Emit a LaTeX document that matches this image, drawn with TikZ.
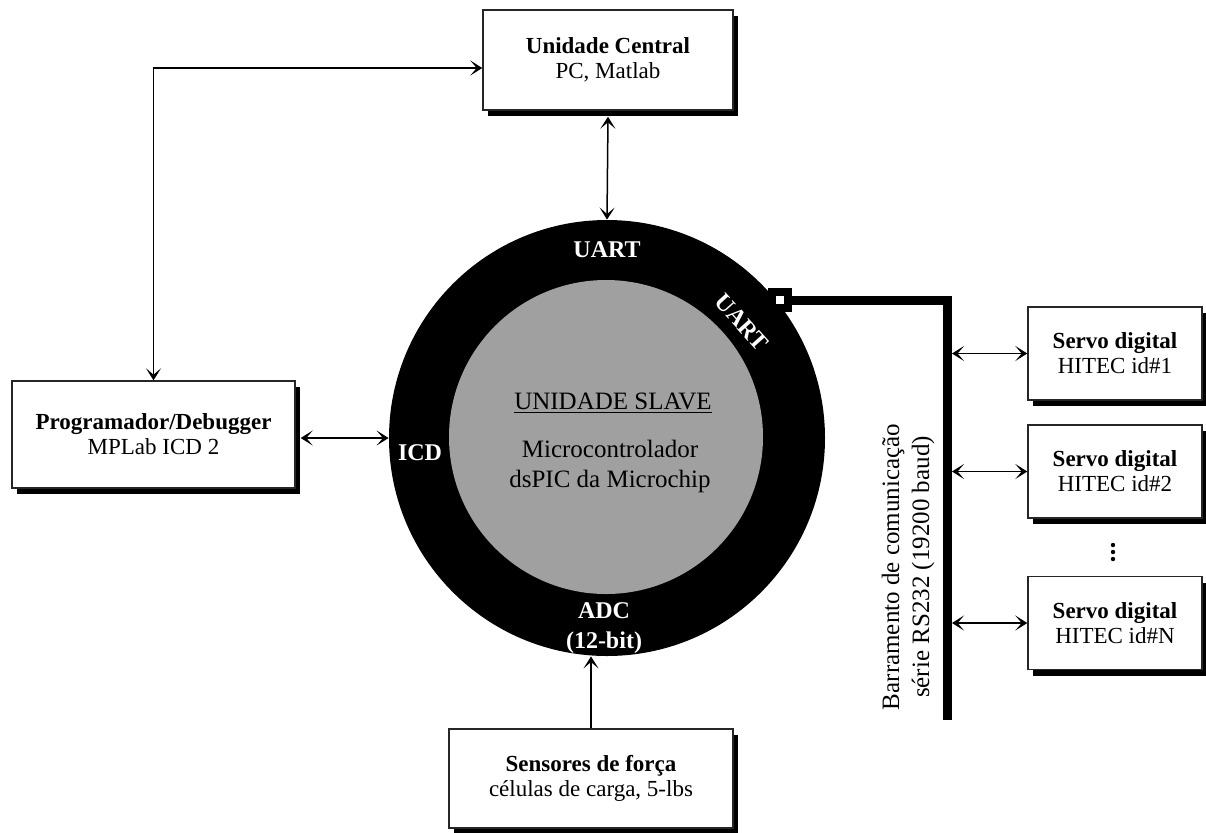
\documentclass[tikz,border=0pt]{standalone}
\usepackage{fontspec}
\setmainfont{Liberation Serif}
\usetikzlibrary{arrows.meta}
\usetikzlibrary{shadows}
\definecolor{slavegray}{RGB}{160,160,160}
\tikzset{unit box/.style={draw=black!85,line width=0.7pt,fill=white,align=center,inner sep=2pt,
    drop shadow={fill=black,opacity=1,shadow xshift=2.5pt,shadow yshift=-3pt},
    font=\fontsize{11.5}{12.5}\selectfont}}
\tikzset{ring label/.style={text=white,align=center,inner sep=0pt,font=\bfseries\fontsize{12}{15}\selectfont}}
\tikzset{slave text/.style={align=center,inner sep=0pt,font=\fontsize{12.5}{15}\selectfont}}
\tikzset{link/.style={line width=0.75pt,{Stealth[length=6pt,width=7.5pt,inset=3.2pt]}-{Stealth[length=6pt,width=7.5pt,inset=3.2pt]}}}
\tikzset{feed/.style={line width=0.75pt,-{Stealth[length=6pt,width=7.5pt,inset=3.2pt]}}}
\tikzset{bus/.style={line width=4.5pt,line join=miter,line cap=butt}}
\begin{document}
\begin{tikzpicture}[x=0.5pt,y=-0.5pt]

    \def \mcuPoint{(607,438)}
    \def \corePoint{(606,437)}

    \useasboundingbox (0,0) rectangle (1206,832);

    % slave unit
    \node[circle,fill=black,inner sep=0pt,minimum size=218pt] (mcu) at \mcuPoint {};
    \node[circle,fill=slavegray,inner sep=0pt,minimum size=157pt] (core) at \corePoint {};
    \node[slave text] (slavetitle) at (613,403) {\underline{UNIDADE SLAVE}};
    \node[slave text] (slavedesc) at (610,466) {Microcontrolador\\dsPIC da Microchip};
    \node[ring label] (uarttop) at (607,250) {UART};
    \node[ring label,rotate=-48] (uartbus) at (742,322) {UART};
    \node[ring label] (icd) at (420,453) {ICD};
    \node[ring label] (adc) at (604,628) {ADC\\(12-bit)};

    % boxes
    \node[unit box,minimum width=125pt,minimum height=50pt] (central) at (608,60)
        {\textbf{Unidade Central}\\PC, Matlab};
    \node[unit box,minimum width=141.5pt,minimum height=53.5pt] (prog) at (153.5,434.5)
        {\textbf{Programador/Debugger}\\MPLab ICD 2};
    \node[unit box,minimum width=142pt,minimum height=49.5pt] (sensor) at (591,778.5)
        {\textbf{Sensores de força}\\células de carga, 5-lbs};
    \node[unit box,minimum width=87pt,minimum height=46.5pt] (servo1) at (1115,353.5)
        {\textbf{Servo digital}\\HITEC id\#1};
    \node[unit box,minimum width=87pt,minimum height=46.5pt] (servo2) at (1115,471.5)
        {\textbf{Servo digital}\\HITEC id\#2};
    \node[unit box,minimum width=87pt,minimum height=46.5pt] (servoN) at (1115,623)
        {\textbf{Servo digital}\\HITEC id\#N};
    \foreach \d in {545,552,559}
        \fill (1113,\d) circle (1.1pt);

    % links
    \draw[link] ([yshift=-4pt]central.west) -| (prog.north);
    \draw[link] ([yshift=-3pt]central.south) -- (mcu.north);
    \draw[link,shorten <=2.5pt] (prog.east |- mcu.west) -- (mcu.west);
    \draw[feed] (sensor.north) -- (sensor.north |- mcu.south);

    % serial bus
    \node[draw,line width=4pt,fill=white,inner sep=0pt,minimum size=8pt] (port) at (780,300) {};
    \coordinate (busbot) at (947.5,720);
    \draw[bus] (port.east) -| (busbot);
    \foreach \s in {servo1,servo2,servoN}
        \draw[link,shorten <=2.25pt] (\s.west -| busbot) -- (\s.west);
    \node[slave text,rotate=90] (buslabel) at (908,567)
        {Barramento de comunicação\\série RS232 (19200 baud)};

\end{tikzpicture}
\end{document}
